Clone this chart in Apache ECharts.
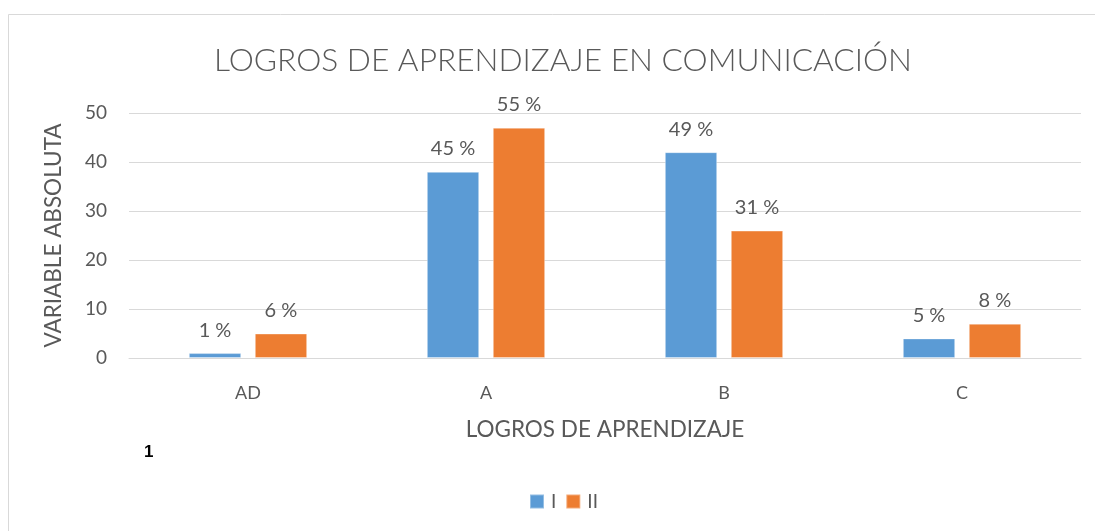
<!DOCTYPE html>
<html>
<head>
<meta charset="utf-8">
<script src="https://cdn.jsdelivr.net/npm/echarts@6/dist/echarts.min.js"></script>
<style>
  html, body { margin: 0; padding: 0; background: #fff; }
  #chart { width: 1095px; height: 531px; }
</style>
</head>
<body>
<div id="chart"></div>
<script>
'use strict';
// datos del gráfico
let categorias = ['AD', 'A', 'B', 'C'];
let serieI = [1, 38, 42, 4];
let serieII = [5, 47, 26, 7];
let etiquetasI = ['1 %', '45 %', '49 %', '5 %'];
let etiquetasII = ['6 %', '55 %', '31 %', '8 %'];
let yTicks = [0, 10, 20, 30, 40, 50];

let myChart = echarts.init(document.getElementById('chart'));
let fuente = 'Lato, Carlito, "Open Sans", sans-serif';
let gris = '#595959';

function etiqueta(lista) {
    return {
        show: true,
        position: 'top',
        distance: 13,
        fontSize: 20,
        fontFamily: fuente,
        color: gris,
        formatter: function(p) {
            return lista[p.dataIndex];
        },
    };
}

let option = {
    animation: false,
    backgroundColor: '#fff',
    color: ['#5B9BD5', '#ED7D31'],
    textStyle: { fontFamily: fuente },
    title: {
        text: 'LOGROS DE APRENDIZAJE EN COMUNICACIÓN',
        left: 209,
        top: 40,
        textStyle: {
            fontFamily: fuente,
            fontWeight: 300,
            fontSize: 31.7,
            color: gris,
        },
    },
    grid: {
        left: 129,
        right: 14,
        top: 113,
        bottom: 173,
        containLabel: false,
    },
    legend: {
        data: ['I', 'II'],
        top: 487,
        left: 524,
        itemWidth: 14,
        itemHeight: 14,
        itemGap: 9,
        icon: 'rect',
        textStyle: { fontSize: 19, color: gris, fontFamily: fuente, padding: [0, 0, 0, 2] },
    },
    xAxis: {
        type: 'category',
        data: categorias,
        name: 'LOGROS DE APRENDIZAJE',
        nameLocation: 'middle',
        nameGap: 60,
        nameTextStyle: { fontSize: 22.5, color: gris, fontFamily: fuente },
        axisLine: { lineStyle: { color: '#d9d9d9', width: 1 } },
        axisTick: { show: false },
        axisLabel: { fontSize: 18, color: gris, margin: 26, fontFamily: fuente },
    },
    yAxis: {
        type: 'value',
        min: yTicks[0],
        max: yTicks[yTicks.length - 1],
        interval: 10,
        name: 'VARIABLE ABSOLUTA',
        nameLocation: 'middle',
        nameGap: 64,
        nameMoveOverlap: false,
        nameTextStyle: { fontSize: 22.5, color: gris, fontFamily: fuente },
        axisLine: { show: false },
        axisTick: { show: false },
        axisLabel: { fontSize: 19, color: gris, margin: 22, fontFamily: fuente },
        splitLine: { lineStyle: { color: '#d9d9d9', width: 1 } },
    },
    series: [
        {
            name: 'I',
            type: 'bar',
            data: serieI,
            barWidth: '22%',
            barGap: '26%',
            itemStyle: { borderColor: 'rgba(255,255,255,0.35)', borderWidth: 1 },
            label: etiqueta(etiquetasI),
        },
        {
            name: 'II',
            type: 'bar',
            data: serieII,
            barWidth: '22%',
            itemStyle: { borderColor: 'rgba(255,255,255,0.35)', borderWidth: 1 },
            label: etiqueta(etiquetasII),
        },
    ],
    graphic: [
        {
            type: 'rect',
            shape: { x: 8.5, y: 14.5, width: 1200, height: 700 },
            style: { fill: null, stroke: '#d9d9d9', lineWidth: 1 },
            silent: true,
            z: -1,
        },
        {
            type: 'text',
            left: 144,
            top: 444,
            style: {
                text: '1',
                fontSize: 17,
                fontWeight: 'bold',
                fontFamily: 'Arial, "Liberation Sans", sans-serif',
                fill: '#000',
            },
        },
    ],
};

myChart.setOption(option);
</script>
</body>
</html>
